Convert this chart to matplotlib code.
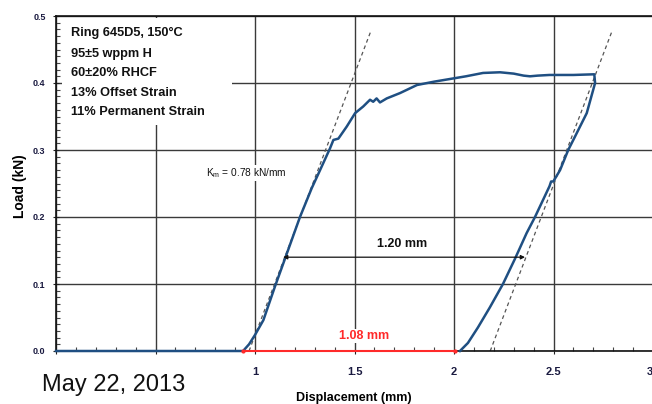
import matplotlib.pyplot as plt
from matplotlib.patches import Rectangle
from matplotlib.ticker import MultipleLocator

# load-displacement trace (mm, kN)
disp = [0.0, 0.94, 0.97, 1.00, 1.042, 1.10, 1.151, 1.226, 1.285, 1.327, 1.377,
        1.394, 1.419, 1.461, 1.503, 1.544, 1.578, 1.594, 1.611, 1.628, 1.662,
        1.729, 1.814, 1.90, 1.98, 2.06, 2.146, 2.231, 2.30, 2.35, 2.382, 2.42,
        2.48, 2.60, 2.705, 2.709, 2.667, 2.608, 2.574, 2.533, 2.499, 2.488,
        2.48, 2.407, 2.365, 2.307, 2.246, 2.18, 2.12, 2.07, 2.03]
load = [0.0, 0.0, 0.010, 0.024, 0.046, 0.096, 0.138, 0.200, 0.243, 0.270, 0.3025,
        0.315, 0.317, 0.335, 0.355, 0.365, 0.375, 0.372, 0.377, 0.371, 0.377,
        0.385, 0.397, 0.402, 0.406, 0.410, 0.415, 0.416, 0.414, 0.411, 0.410, 0.411,
        0.412, 0.412, 0.413, 0.400, 0.355, 0.320, 0.300, 0.270, 0.253, 0.253,
        0.246, 0.200, 0.176, 0.138, 0.100, 0.065, 0.035, 0.012, 0.0]

# stiffness lines (slope Km)
km = 0.78
km_x0 = [0.97, 2.182]
km_ytop = 0.476

# offsets
offset_total = (1.141, 2.357, 0.14)   # 1.20 mm
offset_perm = (0.94, 2.005)           # 1.08 mm

info_lines = ["Ring 645D5, 150°C", "95±5 wppm H", "60±20% RHCF",
              "13% Offset Strain", "11% Permanent Strain"]
info_y = [0.470, 0.439, 0.410, 0.381, 0.352]

xticks = [0, 0.5, 1, 1.5, 2, 2.5, 3]
xticklabels = ["", "", "1", "1.5", "2", "2.5", "3"]
yticks = [0.0, 0.1, 0.2, 0.3, 0.4, 0.5]

sans = ["Liberation Sans", "DejaVu Sans"]
blue = "#1f4f82"
tickcol = "#1a1a40"

fig = plt.figure(figsize=(6.52, 4.04), dpi=100)
ax = fig.add_axes([56 / 652, 53 / 404, 597 / 652, 335 / 404])
ax.set_xlim(0, 3)
ax.set_ylim(0, 0.5)
ax.set_axisbelow(True)

ax.set_xticks(xticks)
ax.set_xticklabels(xticklabels)
ax.set_yticks(yticks)
ax.set_yticklabels([f"{v:.1f}" for v in yticks])
ax.xaxis.set_minor_locator(MultipleLocator(0.1))
ax.yaxis.set_minor_locator(MultipleLocator(0.01))
ax.grid(True, which="major", color="#3a3a3a", linewidth=1.0)
ax.tick_params(axis="x", which="major", direction="out", length=2, pad=9.5,
               labelsize=8, labelcolor=tickcol, color="#222222")
ax.tick_params(axis="y", which="major", direction="inout", length=5, pad=5,
               labelsize=6.5, labelcolor=tickcol, color="#222222")
ax.tick_params(which="minor", direction="in", length=3, width=0.8, color="#444444")
for lab in ax.get_xticklabels() + ax.get_yticklabels():
    lab.set_family(sans)
    lab.set_fontweight("bold")
ax.get_xticklabels()[-1].set_horizontalalignment("right")
for s in ax.spines.values():
    s.set_linewidth(1.2)
    s.set_color("#111111")

# white box behind the specimen info
ax.add_patch(Rectangle((0.03, 0.337), 0.854, 0.16, facecolor="white",
                       edgecolor="none", zorder=1))
for txt, yy in zip(info_lines, info_y):
    ax.text(0.075, yy, txt, family=sans, fontweight="bold", fontsize=9.2,
            va="baseline", ha="left", color="#111111", zorder=4)

# dashed stiffness lines
for x0 in km_x0:
    ax.plot([x0, x0 + km_ytop / km], [0, km_ytop], color="#555555", lw=0.9,
            dashes=(3, 2.5), zorder=2)

ax.plot(disp, load, color=blue, lw=1.8, zorder=3, clip_on=False)

ax.text(0.754, 0.261, r"K$_{\mathregular{m}}$ = 0.78 kN/mm", family=sans,
        fontsize=7.3, va="baseline", ha="left", color="#111111", zorder=4,
        bbox=dict(facecolor="white", edgecolor="none", pad=1))

# 1.20 mm offset arrow
x1, x2, ya = offset_total
ax.annotate("", xy=(x2, ya), xytext=(x1, ya),
            arrowprops=dict(arrowstyle="<|-|>", color="#111111", lw=0.9,
                            mutation_scale=6, shrinkA=0, shrinkB=0), zorder=4)
ax.text(1.741, 0.155, "1.20 mm", family=sans, fontweight="bold", fontsize=9,
        ha="center", va="baseline", color="#111111", zorder=4)

# 1.08 mm permanent set
p1, p2 = offset_perm
ax.plot([p1, p2], [0, 0], color="#ff2a2a", lw=1.5, zorder=5, clip_on=False,
        marker="o", markersize=2)
ax.text(1.548, 0.018, "1.08 mm", family=sans, fontweight="bold", fontsize=9,
        ha="center", va="baseline", color="#ff2a2a", zorder=4,
        bbox=dict(facecolor="white", edgecolor="none", pad=1))

fig.text(354 / 652, 1 - 401 / 404, "Displacement (mm)", family=sans,
         fontweight="bold", fontsize=9, ha="center", va="baseline")
fig.text(20 / 652, 1 - 186 / 404, "Load (kN)", family=sans,
         fontweight="bold", fontsize=10, ha="center", va="center", rotation=90)
fig.text(42 / 652, 1 - 391 / 404, "May 22, 2013", family=sans,
         fontsize=17, ha="left", va="baseline", color="#111111")

fig.savefig("out.png", dpi=100)
